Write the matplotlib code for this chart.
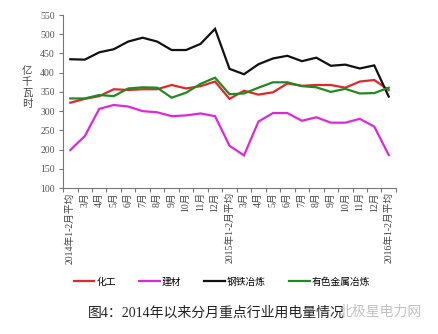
import matplotlib
matplotlib.use("Agg")
import matplotlib.pyplot as plt
import numpy as np

plt.rcParams['font.family'] = ['Liberation Serif', 'Noto Sans CJK SC', 'DejaVu Sans']

months = ["2014年1-2月平均", "3月", "4月", "5月", "6月", "7月", "8月", "9月", "10月", "11月", "12月",
          "2015年1-2月平均", "3月", "4月", "5月", "6月", "7月", "8月", "9月", "10月", "11月", "12月",
          "2016年1-2月平均"]

chemical = [322, 332, 339, 357, 355, 357, 357, 368, 359, 365, 377,
            332, 353, 343, 349, 372, 366, 368, 368, 361, 377, 381, 355]
building = [199, 235, 306, 316, 312, 300, 297, 287, 289, 294, 287,
            210, 185, 273, 295, 295, 275, 284, 270, 270, 280, 260, 186]
steel = [435, 434, 453, 461, 481, 491, 481, 459, 459, 475, 514,
         410, 396, 422, 437, 444, 430, 439, 418, 421, 411, 419, 338]
nonferrous = [333, 333, 342, 339, 359, 362, 361, 335, 348, 371, 387,
              344, 346, 361, 375, 375, 365, 362, 350, 358, 346, 347, 361]

series = [("化工", chemical, "#e02828"),
          ("建材", building, "#dc28dc"),
          ("钢铁冶炼", steel, "#111111"),
          ("有色金属冶炼", nonferrous, "#1f8a1f")]

yticks = [100, 150, 200, 250, 300, 350, 400, 450, 500, 550]

fig = plt.figure(figsize=(4.38, 3.34), dpi=100)
ax = fig.add_axes([0.144, 0.437, 0.760, 0.518])

x = np.arange(len(months))
for name, vals, color in series:
    ax.plot(x, vals, color=color, lw=1.6, label=name, solid_joinstyle='miter')

ax.set_xlim(-0.5, len(months) - 0.5)
ax.set_ylim(100, 550)
ax.set_yticks(yticks)
ax.tick_params(axis='y', labelsize=7, labelcolor='#555555', length=3, width=0.8,
               color='#777777', direction='out', pad=3)

ax.set_xticks(x)
ax.set_xticklabels(months, rotation=90, fontsize=7, color='#444444', va='top')
ax.tick_params(axis='x', which='major', length=0, pad=3)
ax.set_xticks(np.arange(-0.5, len(months)), minor=True)
ax.tick_params(axis='x', which='minor', length=3, width=0.8, color='#777777', direction='out')

for s in ['top', 'right']:
    ax.spines[s].set_visible(False)
for s in ['left', 'bottom']:
    ax.spines[s].set_color('#777777')
    ax.spines[s].set_linewidth(0.8)

# stacked vertical unit label
for i, ch in enumerate("亿千瓦时"):
    fig.text(27 / 438, 1 - (71 + i * 11) / 334, ch, fontsize=7.5, color='#444444',
             ha='center', va='center', family=['Noto Sans CJK SC'], rotation=0)

fig.legend(loc='center left', bbox_to_anchor=(74 / 438, 1 - 282 / 334), ncol=4, frameon=False,
           fontsize=7, handlelength=2.1, columnspacing=2.4, handletextpad=0.2,
           borderpad=0, borderaxespad=0)

fig.text(216 / 438, 1 - 313 / 334, "图4：2014年以来分月重点行业用电量情况", fontsize=10,
         color='#222222', ha='center', va='center')
fig.text(380 / 438, 1 - 312 / 334, "北极星电力网", fontsize=10, color='#bbbbbb',
         ha='center', va='center', alpha=0.9)

fig.savefig("out.png", dpi=100)
